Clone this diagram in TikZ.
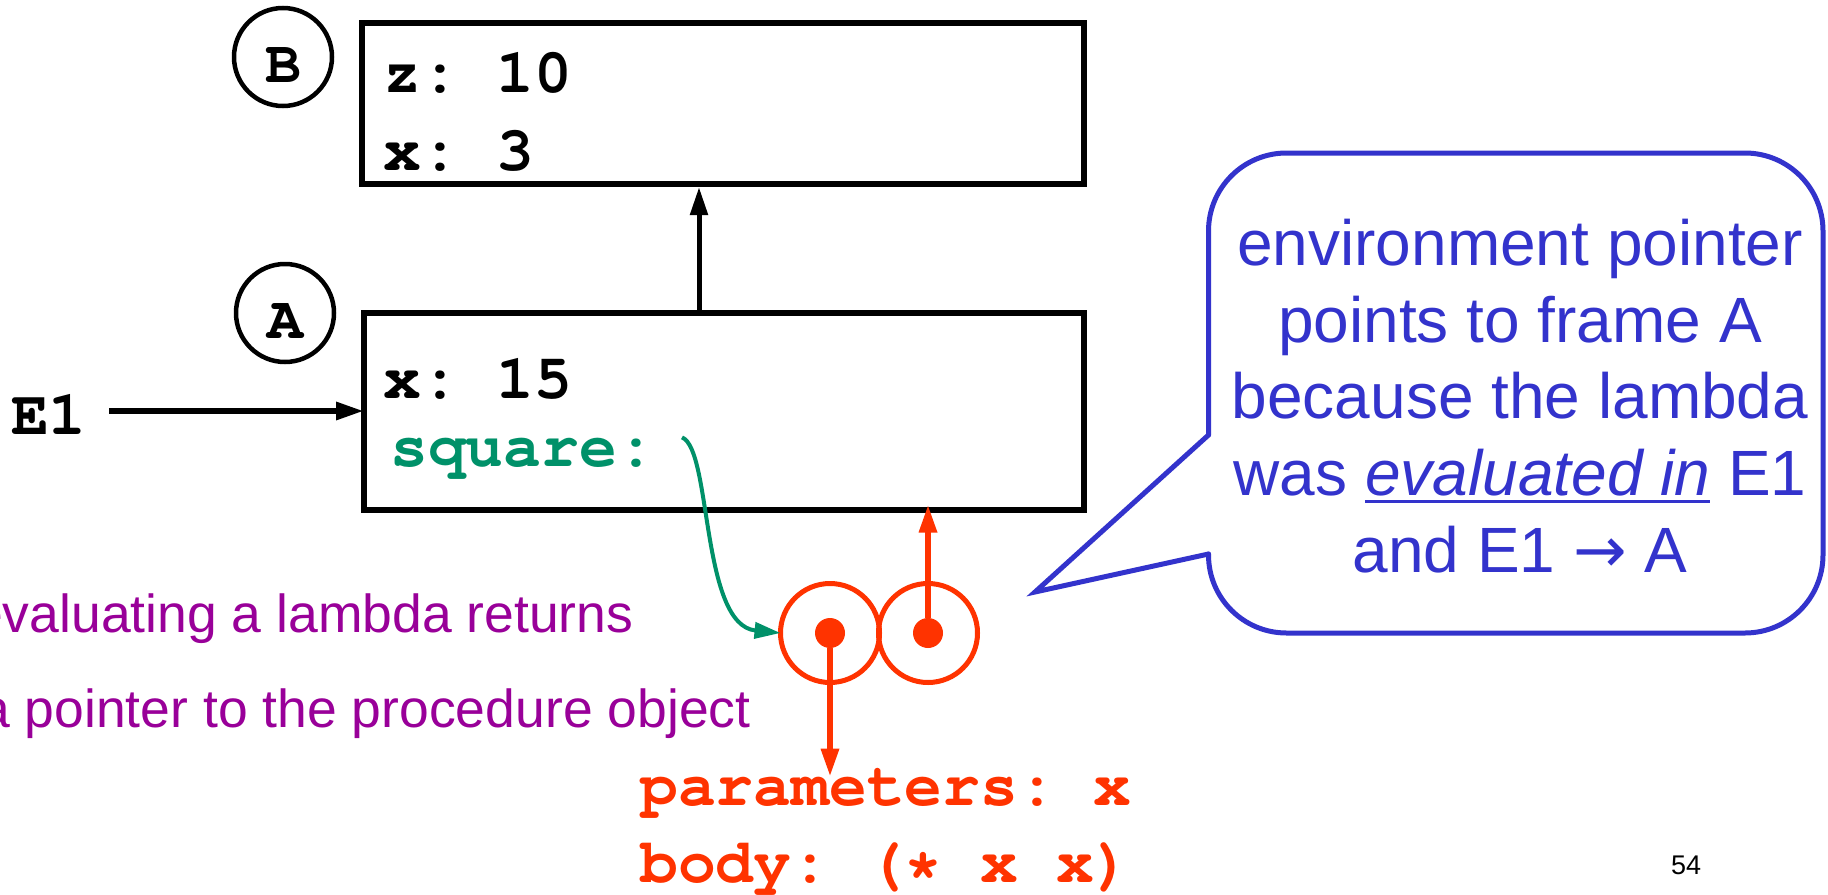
\documentclass[tikz,border=0pt]{standalone}
\usepackage[T1]{fontenc}
\usepackage{fontspec}
\setmainfont{Liberation Sans}
\newfontfamily\arrowfont{DejaVu Sans}
\usepackage{tikz}
\usetikzlibrary{arrows.meta,positioning}

\definecolor{envblue}{RGB}{51,51,204}
\definecolor{procred}{RGB}{255,51,0}
\definecolor{bindgreen}{RGB}{0,145,105}
\definecolor{notepurple}{RGB}{153,0,153}

% bold courier for frames and code
\newcommand{\cour}{\fontencoding{T1}\fontfamily{pcr}\fontseries{b}\fontshape{n}\selectfont\frenchspacing}
\newlength{\ulwd}
\newcommand{\ulined}[1]{\settowidth{\ulwd}{#1}\rlap{\rule[-7pt]{\ulwd}{2.5pt}}#1}

\tikzset{
  envframe/.style={draw,line width=6pt,inner sep=0pt,outer sep=0pt},
  frametag/.style={circle,draw,line width=4.5pt,minimum size=98pt,inner sep=0pt,
    font=\fontsize{60}{72}\cour,text height=50pt,text depth=0pt},
  bindtext/.style={font=\fontsize{63}{76}\cour,inner sep=0pt,anchor=base west},
  remark/.style={font=\fontsize{53.5}{64}\selectfont,notepurple,inner sep=0pt,anchor=base west},
  objcell/.style={circle,draw=procred,line width=5pt,minimum size=99pt,inner sep=0pt,outer sep=0pt},
  objdot/.style={circle,fill=procred,minimum size=30pt,inner sep=0pt},
  ptr/.style={->,line width=5pt},
  procptr/.style={->,procred,line width=6pt},
  bindptr/.style={->,bindgreen,line width=4pt,>={Triangle[length=26pt,width=16pt]}},
  bubble/.style={draw=envblue,line width=5pt,line cap=round},
  bubbletext/.style={font=\fontsize{64}{76.7}\selectfont,envblue,align=center,inner sep=0pt}
}

\begin{document}
\begin{tikzpicture}[x=1pt,y=-1pt,>={Triangle[length=28pt,width=17pt]}]
\path[use as bounding box,fill=white] (0,0) rectangle (1828,894);

% the two frames
\node[envframe,minimum width=722pt,minimum height=161pt] (frameB) at (723,103.5) {};
\node[envframe,minimum width=720pt,minimum height=197pt] (frameA) at (724,411) {};
\node[frametag] (tagB) at (283,57) {B};
\node[frametag] (tagA) at (285,313) {A};

\node[bindtext] (zB) at (383,92) {z: 10};
\node[bindtext] (xB) at (383,170) {x: 3};
\node[bindtext] (xA) at (383,398) {x: 15};
\node[bindtext,bindgreen] (sq) at (390,466) {square:};
\node[bindtext] (E1) at (11,434) {E1};

\coordinate (link) at ([xshift=-25pt]frameA.north);
\draw[ptr,shorten >=3pt] (link) -- (link |- frameB.south);
\draw[ptr,line width=6pt,shorten <=22pt] (E1.east |- frameA.west) -- (frameA.west);

% procedure object
\node[objcell] (lcell) at (830,633) {};
\node[objcell] (rcell) at (928,633) {};
\node[objdot] (ldot) at (lcell) {};
\node[objdot] (rdot) at (rcell) {};

\node[bindtext,procred] (params) at (640,805) {parameters: x};
\node[bindtext,procred] (body) at (640,882) {body: (* x x)};

\draw[procptr,shorten >=-5pt] (rdot) -- (rdot |- frameA.south);
\draw[procptr,shorten >=-7pt] (ldot) -- (ldot |- params.north);
\draw[bindptr] ([xshift=27pt]sq.north east) .. controls +(30,12) and +(-80,-8) .. (lcell.west);

\node[remark] (say1) at (-27,632) {evaluating a lambda returns};
\node[remark] (say2) at (-20,727) {a pointer to the procedure object};

% speech bubble
\coordinate (tip) at (1035,592);
\draw[bubble,rounded corners=78pt] (1208.5,435) -- (1208.5,153) -- (1823,153)
  -- (1823,633) -- (1208.5,633) -- (1208.5,554);
\draw[bubble,line join=miter] (1208.5,554) -- (tip) -- (1208.5,435);
\node[bubbletext] (note) at (1520,396) {environment pointer\\points to frame A\\because the lambda\\was \ulined{\textit{evaluated in}} E1\\and E1 {\arrowfont →} A};

\node[anchor=base west,inner sep=0pt,font=\fontsize{27}{32}\selectfont] (slideno) at (1671,874) {54};
\end{tikzpicture}
\end{document}
